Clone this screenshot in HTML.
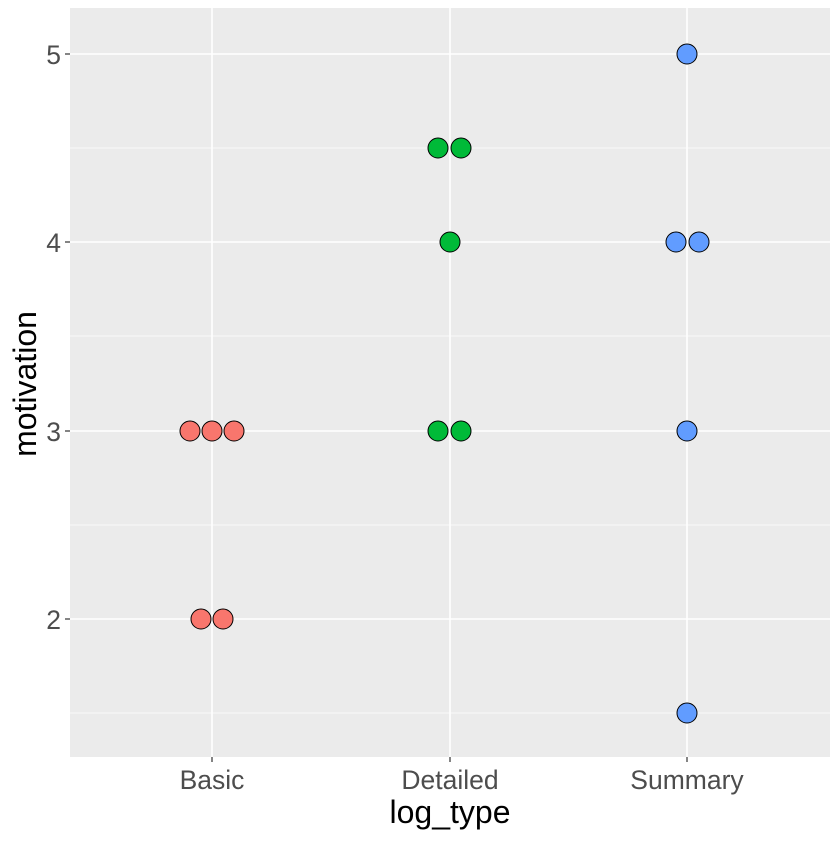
<!DOCTYPE html>
<html><head><style>body{margin:0;background:#fff}</style></head><body>
<svg width="840" height="840" xmlns="http://www.w3.org/2000/svg" font-family="Liberation Sans, Arial, sans-serif">
<rect x="0" y="0" width="840" height="840" fill="#fff"/>
<rect x="70" y="8" width="760" height="749" fill="#EBEBEB"/>
<g stroke="#fff" stroke-width="0.8">
<line x1="70" x2="830" y1="148" y2="148"/><line x1="70" x2="830" y1="336" y2="336"/>
<line x1="70" x2="830" y1="525" y2="525"/><line x1="70" x2="830" y1="713" y2="713"/>
</g>
<g stroke="#fff" stroke-width="1.6">
<line x1="70" x2="830" y1="54" y2="54"/><line x1="70" x2="830" y1="242" y2="242"/>
<line x1="70" x2="830" y1="431" y2="431"/><line x1="70" x2="830" y1="619" y2="619"/>
<line x1="212" x2="212" y1="8" y2="757"/><line x1="450" x2="450" y1="8" y2="757"/>
<line x1="687" x2="687" y1="8" y2="757"/>
</g>
<g stroke="#333" stroke-width="1.2">
<line x1="65" x2="70" y1="54" y2="54"/><line x1="65" x2="70" y1="242" y2="242"/>
<line x1="65" x2="70" y1="431" y2="431"/><line x1="65" x2="70" y1="619" y2="619"/>
<line x1="212" x2="212" y1="757" y2="762"/><line x1="450" x2="450" y1="757" y2="762"/>
<line x1="687" x2="687" y1="757" y2="762"/>
</g>
<g fill="#4D4D4D" font-size="26.5" text-anchor="end">
<text x="61" y="64">5</text><text x="61" y="252">4</text><text x="61" y="441">3</text><text x="61" y="629">2</text>
</g>
<g fill="#4D4D4D" font-size="26.5" text-anchor="middle">
<text x="212" y="789">Basic</text><text x="450" y="789">Detailed</text><text x="687" y="789">Summary</text>
</g>
<text x="450" y="823" font-size="32" text-anchor="middle" fill="#000">log_type</text>
<text transform="translate(36,384) rotate(-90)" font-size="32" text-anchor="middle" fill="#000">motivation</text>
<g stroke="#000" stroke-width="1" >
<g fill="#F8766D">
<circle cx="190" cy="431" r="10"/><circle cx="212" cy="431" r="10"/><circle cx="234" cy="431" r="10"/>
<circle cx="201" cy="619" r="10"/><circle cx="223" cy="619" r="10"/>
</g>
<g fill="#00BA38">
<circle cx="438" cy="148" r="10"/><circle cx="461" cy="148" r="10"/>
<circle cx="450" cy="242" r="10"/>
<circle cx="438" cy="431" r="10"/><circle cx="461" cy="431" r="10"/>
</g>
<g fill="#619CFF">
<circle cx="687" cy="54" r="10"/>
<circle cx="676" cy="242" r="10"/><circle cx="699" cy="242" r="10"/>
<circle cx="687" cy="431" r="10"/><circle cx="687" cy="713" r="10"/>
</g>
</g>
</svg>
</body></html>
